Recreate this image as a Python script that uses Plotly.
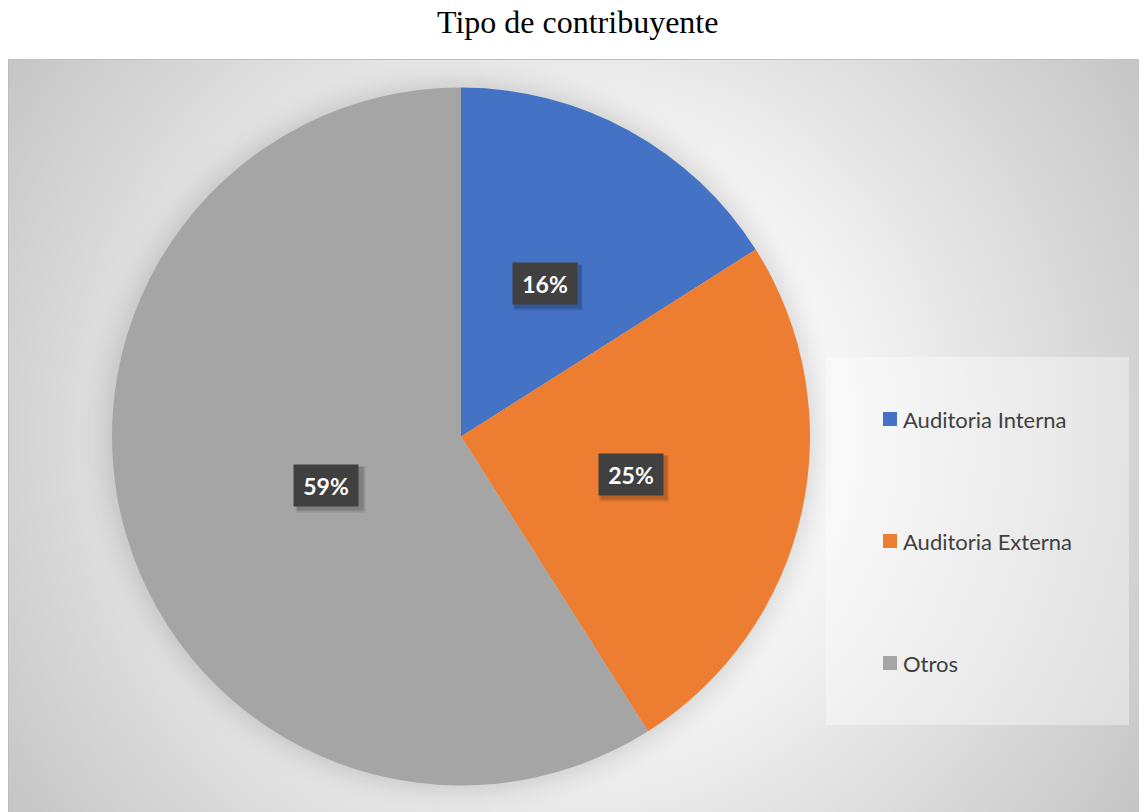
import base64
import math

import plotly.graph_objects as go

# Data
categories = ["Auditoria Interna", "Auditoria Externa", "Otros"]
values = [16, 25, 59]
colors = ["#4472C4", "#ED7D31", "#A5A5A5"]
title_text = "Tipo de contribuyente"

# Canvas and layout geometry (pixels)
W, H = 1139, 812
PA_X0, PA_Y0 = 8, 59                  # plot-area top-left corner
PA_W, PA_H = W - PA_X0, H - PA_Y0
CX, CY, R = 461, 436.5, 349           # pie centre and radius
LEG_X0, LEG_Y0, LEG_X1, LEG_Y1 = 826, 357, 1129, 725
LEG_ITEM_Y0, LEG_ITEM_STEP = 419, 122
LEG_SWATCH_X, LEG_SWATCH = 883, 14


def px(x):
    return x / W


def py(y):
    return 1 - y / H


# Plot-area background: radial grey gradient plus a soft shadow under the pie
svg = f"""<svg xmlns="http://www.w3.org/2000/svg" width="{PA_W}" height="{PA_H}" viewBox="0 0 {PA_W} {PA_H}">
<defs>
<radialGradient id="bg" gradientUnits="userSpaceOnUse" cx="{PA_W/2}" cy="{PA_H/2}" r="690">
<stop offset="0" stop-color="#ffffff"/>
<stop offset="0.33" stop-color="#fbfbfb"/>
<stop offset="1" stop-color="#c4c4c4"/>
</radialGradient>
<filter id="blur" x="-30%" y="-30%" width="160%" height="160%">
<feGaussianBlur stdDeviation="14"/>
</filter>
</defs>
<rect x="0" y="0" width="{PA_W}" height="{PA_H}" fill="url(#bg)"/>
<circle cx="{CX - PA_X0}" cy="{CY - PA_Y0}" r="{R + 4}" fill="#000000" fill-opacity="0.16" filter="url(#blur)"/>
<rect x="0.5" y="0.5" width="{PA_W}" height="{PA_H}" fill="none" stroke="#bdbdbd" stroke-width="1"/>
</svg>"""
bg_uri = "data:image/svg+xml;base64," + base64.b64encode(svg.encode("utf-8")).decode("ascii")

fig = go.Figure()
fig.add_trace(go.Pie(
    labels=categories,
    values=values,
    marker=dict(colors=colors, line=dict(width=0)),
    sort=False,
    direction="clockwise",
    rotation=0,
    textinfo="none",
    hoverinfo="label+percent",
    showlegend=False,
    domain=dict(x=[px(CX - R), px(CX + R)], y=[py(CY + R), py(CY - R)]),
))

annotations = []
shapes = []

# Percentage labels in dark boxes, placed halfway along each slice's mid-angle
total = sum(values)
cum = 0
for v in values:
    mid = (cum + v / 2) / total * 2 * math.pi
    cum += v
    lx = CX + 0.5 * R * math.sin(mid)
    ly = CY - 0.5 * R * math.cos(mid)
    label = f"{round(v / total * 100)}%"
    # soft drop shadow
    annotations.append(dict(
        x=px(lx), y=py(ly), xref="paper", yref="paper", text="",
        showarrow=False, width=66, height=43, bgcolor="rgba(0,0,0,0.10)",
        xshift=3, yshift=-4,
    ))
    annotations.append(dict(
        x=px(lx), y=py(ly), xref="paper", yref="paper", text="",
        showarrow=False, width=64, height=41, bgcolor="rgba(0,0,0,0.14)",
        xshift=3, yshift=-3,
    ))
    annotations.append(dict(
        x=px(lx), y=py(ly), xref="paper", yref="paper",
        text=f"<b>{label}</b>", showarrow=False, width=64, height=41,
        bgcolor="#404040", borderpad=0,
        font=dict(family="Lato, 'Open Sans', sans-serif", size=23, color="#ffffff"),
    ))

# Legend panel
shapes.append(dict(
    type="rect", xref="paper", yref="paper",
    x0=px(LEG_X0), x1=px(LEG_X1), y0=py(LEG_Y1), y1=py(LEG_Y0),
    fillcolor="rgba(255,255,255,0.38)", line=dict(width=0), layer="below",
))
for i, (name, col) in enumerate(zip(categories, colors)):
    yc = LEG_ITEM_Y0 + i * LEG_ITEM_STEP
    shapes.append(dict(
        type="rect", xref="paper", yref="paper",
        x0=px(LEG_SWATCH_X), x1=px(LEG_SWATCH_X + LEG_SWATCH),
        y0=py(yc + LEG_SWATCH / 2), y1=py(yc - LEG_SWATCH / 2),
        fillcolor=col, line=dict(width=0),
    ))
    annotations.append(dict(
        x=px(LEG_SWATCH_X + LEG_SWATCH + 4), y=py(yc), xref="paper", yref="paper",
        text=name, showarrow=False, xanchor="left", yanchor="middle",
        font=dict(family="Lato, 'Open Sans', sans-serif", size=22, color="#404040"),
    ))

# Title
annotations.append(dict(
    x=px(577), y=py(22), xref="paper", yref="paper", text=title_text,
    showarrow=False, xanchor="center", yanchor="middle",
    font=dict(family="'Liberation Serif', 'Times New Roman', serif", size=32, color="#000000"),
))

fig.update_layout(
    width=W, height=H, autosize=False,
    margin=dict(l=0, r=0, t=0, b=0),
    paper_bgcolor="#ffffff",
    plot_bgcolor="#ffffff",
    showlegend=False,
    annotations=annotations,
    shapes=shapes,
    images=[dict(
        source=bg_uri, xref="paper", yref="paper",
        x=px(PA_X0), y=py(PA_Y0), sizex=PA_W / W, sizey=PA_H / H,
        xanchor="left", yanchor="top", sizing="stretch", layer="below",
    )],
)

fig.write_html("out.html")
